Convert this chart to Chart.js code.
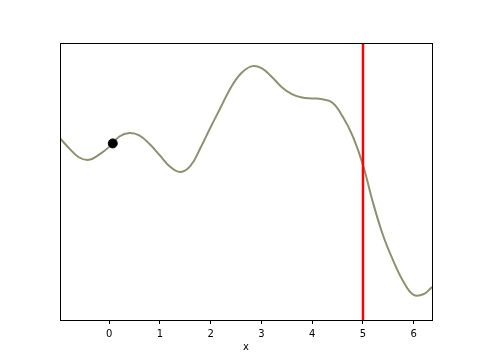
<!DOCTYPE html>
<html lang="en">
  <head>
    <meta charset="UTF-8" />
    <title>Curve with marker</title>
    <script src="https://cdn.jsdelivr.net/npm/chart.js@4"></script>
    <style>
      html, body { margin: 0; padding: 0; background: #ffffff; }
      #wrap { width: 480px; height: 360px; }
    </style>
  </head>
  <body>
    <div id="wrap"><canvas id="myChart" width="480" height="360"></canvas></div>

    <script>
      // curve values
      const xs = [-0.97, -0.8, -0.6, -0.4, -0.2, 0.0, 0.2, 0.4, 0.6, 0.8, 1.0, 1.2, 1.4, 1.6, 1.8,
        2.0, 2.2, 2.4, 2.6, 2.8, 3.0, 3.2, 3.4, 3.6, 3.8, 4.0, 4.2, 4.4, 4.6, 4.8,
        5.0, 5.2, 5.4, 5.6, 5.8, 6.0, 6.2, 6.36]
      const ys = [0.50, 0.39, 0.28, 0.25, 0.31, 0.40, 0.52, 0.56, 0.53, 0.43, 0.30, 0.17, 0.11, 0.18, 0.39,
        0.63, 0.86, 1.09, 1.25, 1.33, 1.31, 1.21, 1.09, 1.01, 0.97, 0.96, 0.95, 0.91, 0.75, 0.52,
        0.19, -0.25, -0.63, -0.92, -1.16, -1.31, -1.30, -1.22]
      const pointX = [0.07]
      const pointY = [0.44]
      const markerX = 5
      const xTicks = [0, 1, 2, 3, 4, 5, 6]
      const xMin = -0.97, xMax = 6.36
      const yMin = -1.6, yMax = 1.6

      const curve = xs.map((x, i) => ({ x: x, y: ys[i] }))
      const dot = pointX.map((x, i) => ({ x: x, y: pointY[i] }))
      const vline = [{ x: markerX, y: yMin }, { x: markerX, y: yMax }]

      const frame = {
        id: 'frame',
        afterDraw(chart) {
          const a = chart.chartArea
          const c = chart.ctx
          c.save()
          c.strokeStyle = '#000'
          c.lineWidth = 1
          c.strokeRect(Math.round(a.left) + 0.5, Math.round(a.top) + 0.5,
            Math.round(a.right - a.left), Math.round(a.bottom - a.top))
          c.restore()
        }
      }

      const ctx = document.getElementById('myChart').getContext('2d')
      const myChart = new Chart(ctx, {
        type: 'line',
        data: {
          datasets: [
            {
              data: curve,
              borderColor: '#8f9070',
              borderWidth: 2,
              pointRadius: 0,
              tension: 0.4,
              fill: false,
              order: 3
            },
            {
              data: vline,
              borderColor: '#ff0000',
              borderWidth: 2.5,
              pointRadius: 0,
              fill: false,
              order: 2
            },
            {
              data: dot,
              showLine: false,
              pointRadius: 4.5,
              pointBackgroundColor: '#000',
              pointBorderColor: '#000',
              order: 1
            }
          ]
        },
        options: {
          responsive: false,
          animation: false,
          layout: { padding: { top: 43, left: 60, right: 48, bottom: 0 } },
          plugins: { legend: { display: false }, tooltip: { enabled: false } },
          scales: {
            x: {
              type: 'linear',
              min: xMin,
              max: xMax,
              afterBuildTicks: (s) => { s.ticks = xTicks.map(v => ({ value: v })) },
              afterFit: (s) => { s.height = 40 },
              border: { display: true, color: '#000', width: 1 },
              grid: { drawOnChartArea: false, drawTicks: true, tickLength: 4, color: '#000' },
              ticks: { color: '#000', font: { family: 'DejaVu Sans', size: 10 }, padding: 4, maxRotation: 0 },
              title: { display: true, text: 'x', color: '#000', font: { family: 'DejaVu Sans', size: 10 }, padding: { top: 2, bottom: 7 } }
            },
            y: {
              type: 'linear',
              display: false,
              min: yMin,
              max: yMax
            }
          }
        },
        plugins: [frame]
      })
    </script>
  </body>
</html>
